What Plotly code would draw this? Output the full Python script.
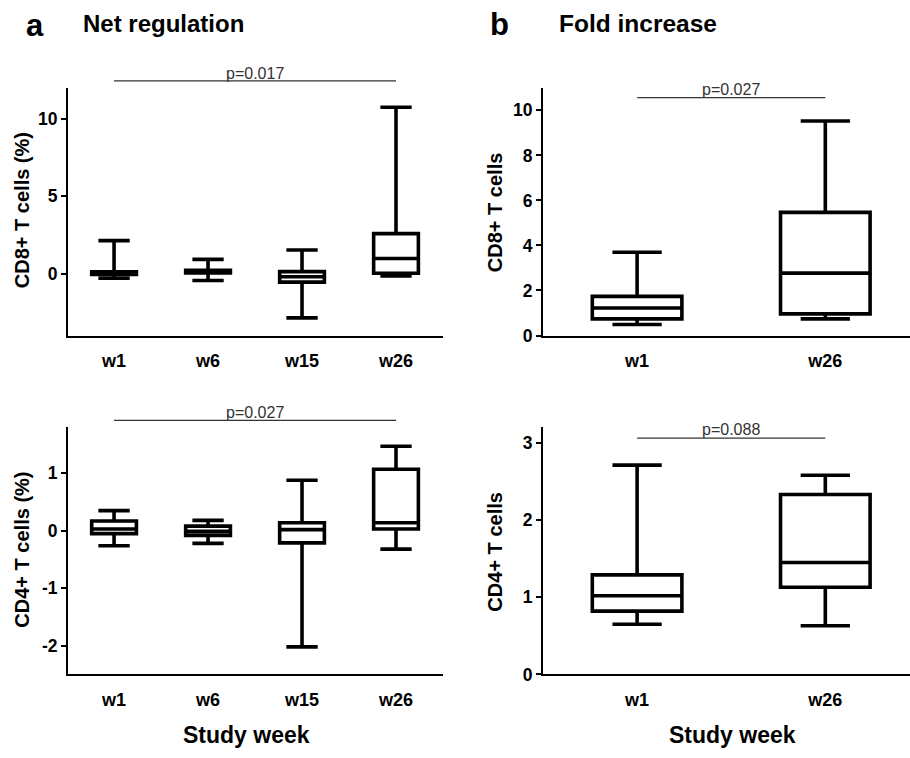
import plotly.graph_objects as go

# ---------------- data ----------------
weeks_net = ["w1", "w6", "w15", "w26"]
weeks_fold = ["w1", "w26"]

cd8_net_low = [-0.30, -0.45, -2.86, -0.15]
cd8_net_q1 = [-0.06, 0.04, -0.55, 0.02]
cd8_net_med = [0.03, 0.12, -0.20, 0.98]
cd8_net_q3 = [0.11, 0.21, 0.13, 2.58]
cd8_net_high = [2.13, 0.92, 1.52, 10.75]

cd4_net_low = [-0.26, -0.22, -2.02, -0.32]
cd4_net_q1 = [-0.05, -0.08, -0.21, 0.03]
cd4_net_med = [0.03, -0.01, 0.02, 0.14]
cd4_net_q3 = [0.17, 0.08, 0.14, 1.07]
cd4_net_high = [0.35, 0.18, 0.88, 1.47]

cd8_fold_low = [0.49, 0.74]
cd8_fold_q1 = [0.74, 0.96]
cd8_fold_med = [1.22, 2.77]
cd8_fold_q3 = [1.74, 5.47]
cd8_fold_high = [3.70, 9.53]

cd4_fold_low = [0.65, 0.63]
cd4_fold_q1 = [0.82, 1.13]
cd4_fold_med = [1.02, 1.45]
cd4_fold_q3 = [1.29, 2.33]
cd4_fold_high = [2.71, 2.58]

cd8_net_ticks = [0, 5, 10]
cd8_net_ticktext = ["0", "5", "10"]
cd4_net_ticks = [-2, -1, 0, 1]
cd4_net_ticktext = ["-2", "-1", "0", "1"]
cd8_fold_ticks = [0, 2, 4, 6, 8, 10]
cd8_fold_ticktext = ["0", "2", "4", "6", "8", "10"]
cd4_fold_ticks = [0, 1, 2, 3]
cd4_fold_ticktext = ["0", "1", "2", "3"]

p_values = ["p=0.017", "p=0.027", "p=0.027", "p=0.088"]

# ---------------- layout helpers ----------------
W, H = 910, 758
FONT = "Liberation Sans, Arial, sans-serif"


def px_x(px):
    return px / W


def px_y(py):
    return 1 - py / H


fig = go.Figure()


def add_box(cats, low, q1, med, q3, high, xa, ya, ww):
    fig.add_trace(go.Box(
        x=cats, lowerfence=low, q1=q1, median=med, q3=q3, upperfence=high,
        xaxis=xa, yaxis=ya, boxpoints=False, whiskerwidth=ww,
        fillcolor="white", line=dict(color="black", width=3.6),
        showlegend=False, hoverinfo="skip",
    ))


add_box(weeks_net, cd8_net_low, cd8_net_q1, cd8_net_med, cd8_net_q3, cd8_net_high, "x", "y", 0.7)
add_box(weeks_net, cd4_net_low, cd4_net_q1, cd4_net_med, cd4_net_q3, cd4_net_high, "x2", "y2", 0.7)
add_box(weeks_fold, cd8_fold_low, cd8_fold_q1, cd8_fold_med, cd8_fold_q3, cd8_fold_high, "x3", "y3", 0.55)
add_box(weeks_fold, cd4_fold_low, cd4_fold_q1, cd4_fold_med, cd4_fold_q3, cd4_fold_high, "x4", "y4", 0.55)

tickfont = dict(family=FONT, size=17.5, color="black", weight="bold")
xtickfont = dict(family=FONT, size=18, color="black", weight="bold")

left_dom = [px_x(68), px_x(443)]
right_dom = [px_x(543), 1.0]
top_dom = [px_y(340), px_y(89)]
bot_dom = [px_y(683.5), px_y(433)]


def xaxis(dom, anchor, rng):
    return dict(domain=dom, anchor=anchor, type="category", range=rng,
                showline=True, linecolor="black", linewidth=2, ticks="",
                showgrid=False, zeroline=False, tickfont=xtickfont,
                ticklabelstandoff=8, fixedrange=True)


def yaxis(dom, anchor, rng, tv, tt):
    return dict(domain=dom, anchor=anchor, range=rng, tickmode="array",
                tickvals=tv, ticktext=tt,
                showline=True, linecolor="black", linewidth=2, ticks="outside",
                ticklen=5, tickwidth=2, tickcolor="black", showgrid=False,
                zeroline=False, tickfont=tickfont, fixedrange=True)


fig.update_layout(
    width=W, height=H, margin=dict(l=0, r=0, t=0, b=0),
    paper_bgcolor="white", plot_bgcolor="white", boxgap=0.32,
    xaxis=xaxis(left_dom, "y", [-0.49, 3.5]),
    yaxis=yaxis(top_dom, "x", [-4, 12], cd8_net_ticks, cd8_net_ticktext),
    xaxis2=xaxis(left_dom, "y2", [-0.49, 3.5]),
    yaxis2=yaxis(bot_dom, "x2", [-2.5, 1.8], cd4_net_ticks, cd4_net_ticktext),
    xaxis3=xaxis(right_dom, "y3", [-0.5, 1.45]),
    yaxis3=yaxis(top_dom, "x3", [0, 11], cd8_fold_ticks, cd8_fold_ticktext),
    xaxis4=xaxis(right_dom, "y4", [-0.5, 1.45]),
    yaxis4=yaxis(bot_dom, "x4", [0, 3.2], cd4_fold_ticks, cd4_fold_ticktext),
)

ann = []


def text(s, x, y, size, bold=True, angle=0, xanchor="center", color="black"):
    ann.append(dict(text=s, x=px_x(x), y=px_y(y), xref="paper", yref="paper",
                    showarrow=False, xanchor=xanchor, yanchor="middle",
                    textangle=angle, borderpad=0,
                    font=dict(family=FONT, size=size, color=color,
                              weight="bold" if bold else "normal")))


# panel letters and titles
text("a", 34.5, 26, 31)
text("Net regulation", 82, 24, 24, xanchor="left")
text("b", 499.5, 25, 31)
text("Fold increase", 558, 24, 24.5, xanchor="left")

# y-axis titles
text("CD8+ T cells (%)", 22, 213, 20, angle=-90)
text("CD4+ T cells (%)", 22, 557, 20, angle=-90)
text("CD8+ T cells", 495, 215, 20, angle=-90)
text("CD4+ T cells", 495, 559, 20, angle=-90)

# x-axis titles
text("Study week", 247, 745, 23)
text("Study week", 732, 745, 23)

# significance lines
shapes = []
sig = [
    ("x", weeks_net, 82, 74, p_values[0]),
    ("x2", weeks_net, 426, 418, p_values[1]),
    ("x3", weeks_fold, 99, 91, p_values[2]),
    ("x4", weeks_fold, 444, 435, p_values[3]),
]
for xref, cats, ly, ty, label in sig:
    i0, i1 = 0, len(cats) - 1
    shapes.append(dict(type="line", xref=xref, yref="paper", x0=i0, x1=i1,
                       y0=px_y(ly), y1=px_y(ly),
                       line=dict(color="#333333", width=1.2)))
    ann.append(dict(text=label, x=(i0 + i1) / 2, y=px_y(ty), xref=xref, yref="paper",
                    showarrow=False, xanchor="center", yanchor="middle",
                    font=dict(family=FONT, size=16, color="#333333")))

fig.update_layout(annotations=ann, shapes=shapes)

fig.write_html(
    "out.html",
    config={"displayModeBar": False},
    post_script="document.body.style.margin='0px';document.body.style.overflow='hidden';",
)
